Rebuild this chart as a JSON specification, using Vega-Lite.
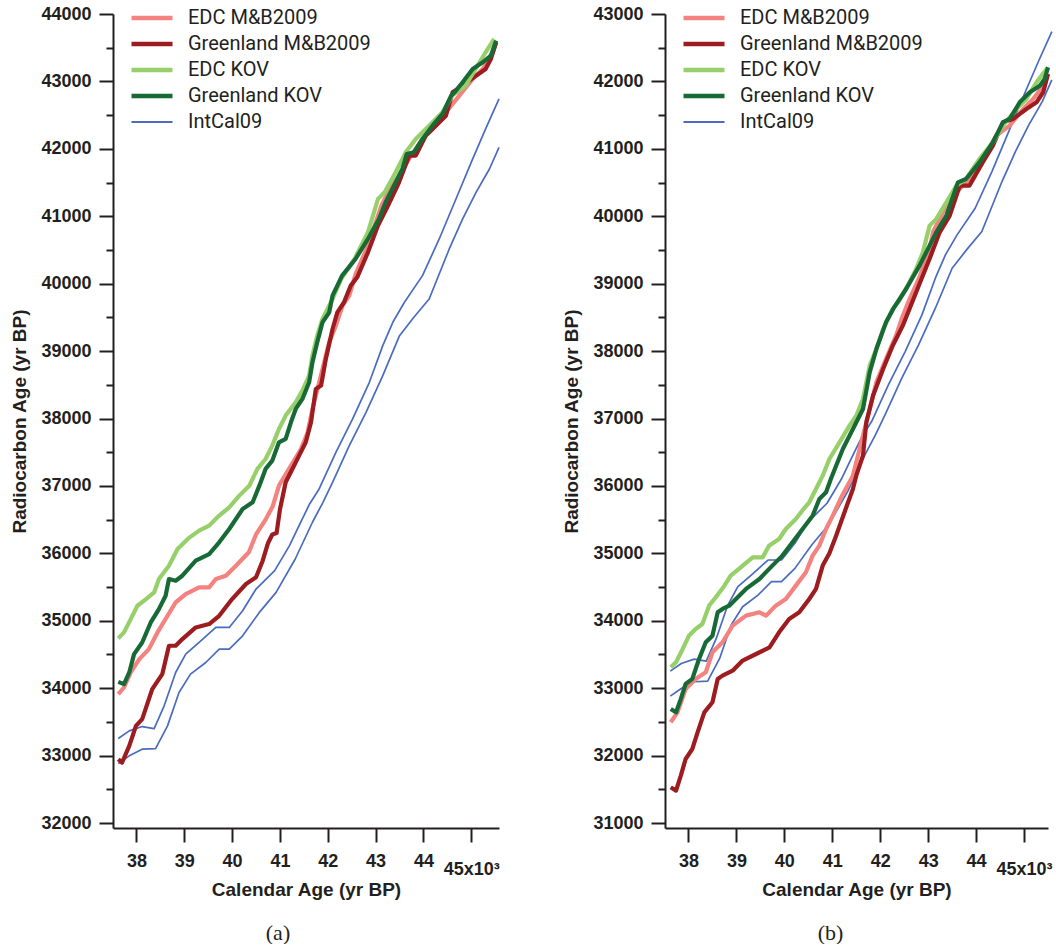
{
"$schema":"https://vega.github.io/schema/vega-lite/v6.json",
"padding":{"left":10,"top":5,"right":0,"bottom":0},
"background":"white",
"config":{
 "view":{"stroke":null},
 "axis":{"grid":false,"domainColor":"#231f20","domainWidth":2,"tickColor":"#231f20","tickWidth":2,"labelFont":"Liberation Sans","labelFontWeight":"bold","labelFontSize":18,"labelColor":"#231f20","titleFont":"Liberation Sans","titleFontWeight":"bold","titleFontSize":19,"titleColor":"#231f20","labelOverlap":false,"labelFlush":false},
 "legend":{"orient":"none","legendX":29,"legendY":-6,"title":null,"labelFont":"Roboto","labelFontSize":20,"labelColor":"#231f20","labelLimit":400,"symbolType":"stroke","symbolSize":1681,"symbolStrokeWidth":4.5,"rowPadding":6,"labelOffset":26,"padding":0},
 "title":{"orient":"bottom","font":"Liberation Serif","fontSize":22,"fontWeight":"normal","color":"#231f20","anchor":"middle","frame":"group","offset":24}
},
"datasets":{
"a":[
{"s":"IntCal09","g":"hi","x":37.62,"y":33253},{"s":"IntCal09","g":"hi","x":37.85,"y":33367},{"s":"IntCal09","g":"hi","x":38.12,"y":33431},{"s":"IntCal09","g":"hi","x":38.37,"y":33401},{"s":"IntCal09","g":"hi","x":38.58,"y":33738},{"s":"IntCal09","g":"hi","x":38.82,"y":34233},{"s":"IntCal09","g":"hi","x":39.03,"y":34505},{"s":"IntCal09","g":"hi","x":39.31,"y":34678},{"s":"IntCal09","g":"hi","x":39.66,"y":34901},{"s":"IntCal09","g":"hi","x":39.94,"y":34901},{"s":"IntCal09","g":"hi","x":40.22,"y":35149},{"s":"IntCal09","g":"hi","x":40.5,"y":35470},{"s":"IntCal09","g":"hi","x":40.89,"y":35743},{"s":"IntCal09","g":"hi","x":41.2,"y":36114},{"s":"IntCal09","g":"hi","x":41.4,"y":36411},{"s":"IntCal09","g":"hi","x":41.62,"y":36733},{"s":"IntCal09","g":"hi","x":41.82,"y":36955},{"s":"IntCal09","g":"hi","x":42.17,"y":37499},{"s":"IntCal09","g":"hi","x":42.52,"y":37993},{"s":"IntCal09","g":"hi","x":42.87,"y":38537},{"s":"IntCal09","g":"hi","x":43.15,"y":39081},{"s":"IntCal09","g":"hi","x":43.36,"y":39427},{"s":"IntCal09","g":"hi","x":43.6,"y":39720},{"s":"IntCal09","g":"hi","x":43.98,"y":40119},{"s":"IntCal09","g":"hi","x":44.33,"y":40663},{"s":"IntCal09","g":"hi","x":44.68,"y":41256},{"s":"IntCal09","g":"hi","x":45.03,"y":41850},{"s":"IntCal09","g":"hi","x":45.3,"y":42295},{"s":"IntCal09","g":"hi","x":45.58,"y":42740},
{"s":"IntCal09","g":"lo","x":37.62,"y":32882},{"s":"IntCal09","g":"lo","x":37.85,"y":32996},{"s":"IntCal09","g":"lo","x":38.12,"y":33095},{"s":"IntCal09","g":"lo","x":38.4,"y":33104},{"s":"IntCal09","g":"lo","x":38.65,"y":33441},{"s":"IntCal09","g":"lo","x":38.89,"y":33936},{"s":"IntCal09","g":"lo","x":39.13,"y":34208},{"s":"IntCal09","g":"lo","x":39.45,"y":34381},{"s":"IntCal09","g":"lo","x":39.73,"y":34579},{"s":"IntCal09","g":"lo","x":39.94,"y":34579},{"s":"IntCal09","g":"lo","x":40.22,"y":34777},{"s":"IntCal09","g":"lo","x":40.57,"y":35124},{"s":"IntCal09","g":"lo","x":40.92,"y":35421},{"s":"IntCal09","g":"lo","x":41.32,"y":35916},{"s":"IntCal09","g":"lo","x":41.68,"y":36461},{"s":"IntCal09","g":"lo","x":41.9,"y":36757},{"s":"IntCal09","g":"lo","x":42.1,"y":37054},{"s":"IntCal09","g":"lo","x":42.45,"y":37598},{"s":"IntCal09","g":"lo","x":42.8,"y":38092},{"s":"IntCal09","g":"lo","x":43.15,"y":38636},{"s":"IntCal09","g":"lo","x":43.5,"y":39229},{"s":"IntCal09","g":"lo","x":43.8,"y":39501},{"s":"IntCal09","g":"lo","x":44.12,"y":39773},{"s":"IntCal09","g":"lo","x":44.54,"y":40515},{"s":"IntCal09","g":"lo","x":44.82,"y":40960},{"s":"IntCal09","g":"lo","x":45.1,"y":41355},{"s":"IntCal09","g":"lo","x":45.38,"y":41701},{"s":"IntCal09","g":"lo","x":45.58,"y":42022},
{"s":"EDC M&B2009","g":"em","x":37.62,"y":33911},{"s":"EDC M&B2009","g":"em","x":37.74,"y":34010},{"s":"EDC M&B2009","g":"em","x":37.88,"y":34233},{"s":"EDC M&B2009","g":"em","x":38.06,"y":34431},{"s":"EDC M&B2009","g":"em","x":38.26,"y":34579},{"s":"EDC M&B2009","g":"em","x":38.44,"y":34827},{"s":"EDC M&B2009","g":"em","x":38.65,"y":35074},{"s":"EDC M&B2009","g":"em","x":38.82,"y":35272},{"s":"EDC M&B2009","g":"em","x":39.03,"y":35396},{"s":"EDC M&B2009","g":"em","x":39.31,"y":35495},{"s":"EDC M&B2009","g":"em","x":39.52,"y":35495},{"s":"EDC M&B2009","g":"em","x":39.66,"y":35619},{"s":"EDC M&B2009","g":"em","x":39.87,"y":35668},{"s":"EDC M&B2009","g":"em","x":40.08,"y":35817},{"s":"EDC M&B2009","g":"em","x":40.35,"y":36015},{"s":"EDC M&B2009","g":"em","x":40.5,"y":36280},{"s":"EDC M&B2009","g":"em","x":40.7,"y":36500},{"s":"EDC M&B2009","g":"em","x":40.85,"y":36700},{"s":"EDC M&B2009","g":"em","x":40.98,"y":37004},{"s":"EDC M&B2009","g":"em","x":41.19,"y":37252},{"s":"EDC M&B2009","g":"em","x":41.44,"y":37548},{"s":"EDC M&B2009","g":"em","x":41.58,"y":37796},{"s":"EDC M&B2009","g":"em","x":41.68,"y":38142},{"s":"EDC M&B2009","g":"em","x":41.75,"y":38339},{"s":"EDC M&B2009","g":"em","x":41.89,"y":38735},{"s":"EDC M&B2009","g":"em","x":42.03,"y":39130},{"s":"EDC M&B2009","g":"em","x":42.17,"y":39378},{"s":"EDC M&B2009","g":"em","x":42.31,"y":39674},{"s":"EDC M&B2009","g":"em","x":42.45,"y":39823},{"s":"EDC M&B2009","g":"em","x":42.58,"y":40140},{"s":"EDC M&B2009","g":"em","x":42.84,"y":40564},{"s":"EDC M&B2009","g":"em","x":43.12,"y":41157},{"s":"EDC M&B2009","g":"em","x":43.26,"y":41355},{"s":"EDC M&B2009","g":"em","x":43.49,"y":41602},{"s":"EDC M&B2009","g":"em","x":43.7,"y":41850},{"s":"EDC M&B2009","g":"em","x":43.98,"y":42146},{"s":"EDC M&B2009","g":"em","x":44.19,"y":42295},{"s":"EDC M&B2009","g":"em","x":44.47,"y":42542},{"s":"EDC M&B2009","g":"em","x":44.75,"y":42789},{"s":"EDC M&B2009","g":"em","x":45.03,"y":43036},{"s":"EDC M&B2009","g":"em","x":45.24,"y":43184},{"s":"EDC M&B2009","g":"em","x":45.45,"y":43432},{"s":"EDC M&B2009","g":"em","x":45.52,"y":43580},
{"s":"Greenland M&B2009","g":"gm","x":37.62,"y":32946},{"s":"Greenland M&B2009","g":"gm","x":37.7,"y":32897},{"s":"Greenland M&B2009","g":"gm","x":37.85,"y":33144},{"s":"Greenland M&B2009","g":"gm","x":37.99,"y":33441},{"s":"Greenland M&B2009","g":"gm","x":38.12,"y":33540},{"s":"Greenland M&B2009","g":"gm","x":38.33,"y":33985},{"s":"Greenland M&B2009","g":"gm","x":38.54,"y":34208},{"s":"Greenland M&B2009","g":"gm","x":38.68,"y":34629},{"s":"Greenland M&B2009","g":"gm","x":38.82,"y":34629},{"s":"Greenland M&B2009","g":"gm","x":38.96,"y":34728},{"s":"Greenland M&B2009","g":"gm","x":39.24,"y":34901},{"s":"Greenland M&B2009","g":"gm","x":39.52,"y":34951},{"s":"Greenland M&B2009","g":"gm","x":39.73,"y":35074},{"s":"Greenland M&B2009","g":"gm","x":40.0,"y":35322},{"s":"Greenland M&B2009","g":"gm","x":40.29,"y":35545},{"s":"Greenland M&B2009","g":"gm","x":40.5,"y":35644},{"s":"Greenland M&B2009","g":"gm","x":40.64,"y":35891},{"s":"Greenland M&B2009","g":"gm","x":40.75,"y":36150},{"s":"Greenland M&B2009","g":"gm","x":40.84,"y":36280},{"s":"Greenland M&B2009","g":"gm","x":40.93,"y":36300},{"s":"Greenland M&B2009","g":"gm","x":41.0,"y":36650},{"s":"Greenland M&B2009","g":"gm","x":41.12,"y":37054},{"s":"Greenland M&B2009","g":"gm","x":41.26,"y":37252},{"s":"Greenland M&B2009","g":"gm","x":41.4,"y":37449},{"s":"Greenland M&B2009","g":"gm","x":41.54,"y":37647},{"s":"Greenland M&B2009","g":"gm","x":41.65,"y":37944},{"s":"Greenland M&B2009","g":"gm","x":41.75,"y":38438},{"s":"Greenland M&B2009","g":"gm","x":41.86,"y":38488},{"s":"Greenland M&B2009","g":"gm","x":41.96,"y":38883},{"s":"Greenland M&B2009","g":"gm","x":42.1,"y":39328},{"s":"Greenland M&B2009","g":"gm","x":42.2,"y":39575},{"s":"Greenland M&B2009","g":"gm","x":42.34,"y":39724},{"s":"Greenland M&B2009","g":"gm","x":42.48,"y":39971},{"s":"Greenland M&B2009","g":"gm","x":42.62,"y":40100},{"s":"Greenland M&B2009","g":"gm","x":42.84,"y":40465},{"s":"Greenland M&B2009","g":"gm","x":43.05,"y":40861},{"s":"Greenland M&B2009","g":"gm","x":43.26,"y":41157},{"s":"Greenland M&B2009","g":"gm","x":43.49,"y":41503},{"s":"Greenland M&B2009","g":"gm","x":43.7,"y":41899},{"s":"Greenland M&B2009","g":"gm","x":43.84,"y":41899},{"s":"Greenland M&B2009","g":"gm","x":44.05,"y":42196},{"s":"Greenland M&B2009","g":"gm","x":44.26,"y":42344},{"s":"Greenland M&B2009","g":"gm","x":44.47,"y":42492},{"s":"Greenland M&B2009","g":"gm","x":44.61,"y":42838},{"s":"Greenland M&B2009","g":"gm","x":44.82,"y":42937},{"s":"Greenland M&B2009","g":"gm","x":45.1,"y":43085},{"s":"Greenland M&B2009","g":"gm","x":45.3,"y":43184},{"s":"Greenland M&B2009","g":"gm","x":45.41,"y":43333},{"s":"Greenland M&B2009","g":"gm","x":45.52,"y":43580},
{"s":"EDC KOV","g":"ek","x":37.62,"y":34738},{"s":"EDC KOV","g":"ek","x":37.74,"y":34827},{"s":"EDC KOV","g":"ek","x":37.88,"y":35025},{"s":"EDC KOV","g":"ek","x":38.02,"y":35223},{"s":"EDC KOV","g":"ek","x":38.2,"y":35322},{"s":"EDC KOV","g":"ek","x":38.37,"y":35420},{"s":"EDC KOV","g":"ek","x":38.47,"y":35619},{"s":"EDC KOV","g":"ek","x":38.68,"y":35817},{"s":"EDC KOV","g":"ek","x":38.86,"y":36064},{"s":"EDC KOV","g":"ek","x":39.1,"y":36230},{"s":"EDC KOV","g":"ek","x":39.31,"y":36337},{"s":"EDC KOV","g":"ek","x":39.52,"y":36411},{"s":"EDC KOV","g":"ek","x":39.73,"y":36560},{"s":"EDC KOV","g":"ek","x":39.94,"y":36683},{"s":"EDC KOV","g":"ek","x":40.15,"y":36856},{"s":"EDC KOV","g":"ek","x":40.36,"y":37004},{"s":"EDC KOV","g":"ek","x":40.53,"y":37252},{"s":"EDC KOV","g":"ek","x":40.7,"y":37400},{"s":"EDC KOV","g":"ek","x":40.84,"y":37598},{"s":"EDC KOV","g":"ek","x":40.98,"y":37845},{"s":"EDC KOV","g":"ek","x":41.12,"y":38043},{"s":"EDC KOV","g":"ek","x":41.33,"y":38240},{"s":"EDC KOV","g":"ek","x":41.47,"y":38413},{"s":"EDC KOV","g":"ek","x":41.61,"y":38636},{"s":"EDC KOV","g":"ek","x":41.68,"y":38933},{"s":"EDC KOV","g":"ek","x":41.78,"y":39229},{"s":"EDC KOV","g":"ek","x":41.89,"y":39476},{"s":"EDC KOV","g":"ek","x":42.1,"y":39773},{"s":"EDC KOV","g":"ek","x":42.28,"y":40070},{"s":"EDC KOV","g":"ek","x":42.56,"y":40366},{"s":"EDC KOV","g":"ek","x":42.84,"y":40762},{"s":"EDC KOV","g":"ek","x":43.05,"y":41256},{"s":"EDC KOV","g":"ek","x":43.19,"y":41355},{"s":"EDC KOV","g":"ek","x":43.42,"y":41652},{"s":"EDC KOV","g":"ek","x":43.63,"y":41948},{"s":"EDC KOV","g":"ek","x":43.84,"y":42146},{"s":"EDC KOV","g":"ek","x":44.12,"y":42344},{"s":"EDC KOV","g":"ek","x":44.4,"y":42542},{"s":"EDC KOV","g":"ek","x":44.6,"y":42789},{"s":"EDC KOV","g":"ek","x":44.88,"y":42937},{"s":"EDC KOV","g":"ek","x":45.09,"y":43184},{"s":"EDC KOV","g":"ek","x":45.3,"y":43432},{"s":"EDC KOV","g":"ek","x":45.48,"y":43629},
{"s":"Greenland KOV","g":"gk","x":37.62,"y":34094},{"s":"Greenland KOV","g":"gk","x":37.74,"y":34060},{"s":"Greenland KOV","g":"gk","x":37.85,"y":34233},{"s":"Greenland KOV","g":"gk","x":37.95,"y":34505},{"s":"Greenland KOV","g":"gk","x":38.12,"y":34678},{"s":"Greenland KOV","g":"gk","x":38.3,"y":34975},{"s":"Greenland KOV","g":"gk","x":38.47,"y":35173},{"s":"Greenland KOV","g":"gk","x":38.61,"y":35371},{"s":"Greenland KOV","g":"gk","x":38.68,"y":35619},{"s":"Greenland KOV","g":"gk","x":38.82,"y":35594},{"s":"Greenland KOV","g":"gk","x":38.96,"y":35668},{"s":"Greenland KOV","g":"gk","x":39.24,"y":35891},{"s":"Greenland KOV","g":"gk","x":39.52,"y":35990},{"s":"Greenland KOV","g":"gk","x":39.73,"y":36163},{"s":"Greenland KOV","g":"gk","x":39.94,"y":36361},{"s":"Greenland KOV","g":"gk","x":40.22,"y":36658},{"s":"Greenland KOV","g":"gk","x":40.43,"y":36757},{"s":"Greenland KOV","g":"gk","x":40.57,"y":37004},{"s":"Greenland KOV","g":"gk","x":40.7,"y":37252},{"s":"Greenland KOV","g":"gk","x":40.84,"y":37375},{"s":"Greenland KOV","g":"gk","x":40.98,"y":37647},{"s":"Greenland KOV","g":"gk","x":41.12,"y":37697},{"s":"Greenland KOV","g":"gk","x":41.23,"y":37944},{"s":"Greenland KOV","g":"gk","x":41.33,"y":38142},{"s":"Greenland KOV","g":"gk","x":41.47,"y":38290},{"s":"Greenland KOV","g":"gk","x":41.61,"y":38537},{"s":"Greenland KOV","g":"gk","x":41.68,"y":38834},{"s":"Greenland KOV","g":"gk","x":41.78,"y":39130},{"s":"Greenland KOV","g":"gk","x":41.89,"y":39427},{"s":"Greenland KOV","g":"gk","x":42.03,"y":39575},{"s":"Greenland KOV","g":"gk","x":42.1,"y":39822},{"s":"Greenland KOV","g":"gk","x":42.3,"y":40119},{"s":"Greenland KOV","g":"gk","x":42.58,"y":40366},{"s":"Greenland KOV","g":"gk","x":42.84,"y":40663},{"s":"Greenland KOV","g":"gk","x":43.07,"y":40960},{"s":"Greenland KOV","g":"gk","x":43.21,"y":41207},{"s":"Greenland KOV","g":"gk","x":43.35,"y":41405},{"s":"Greenland KOV","g":"gk","x":43.56,"y":41701},{"s":"Greenland KOV","g":"gk","x":43.65,"y":41924},{"s":"Greenland KOV","g":"gk","x":43.8,"y":41948},{"s":"Greenland KOV","g":"gk","x":43.98,"y":42146},{"s":"Greenland KOV","g":"gk","x":44.19,"y":42344},{"s":"Greenland KOV","g":"gk","x":44.4,"y":42517},{"s":"Greenland KOV","g":"gk","x":44.58,"y":42789},{"s":"Greenland KOV","g":"gk","x":44.65,"y":42838},{"s":"Greenland KOV","g":"gk","x":44.82,"y":42987},{"s":"Greenland KOV","g":"gk","x":45.03,"y":43184},{"s":"Greenland KOV","g":"gk","x":45.24,"y":43283},{"s":"Greenland KOV","g":"gk","x":45.41,"y":43382},{"s":"Greenland KOV","g":"gk","x":45.52,"y":43605}
],
"b":[
{"s":"IntCal09","g":"hi","x":37.62,"y":33253},{"s":"IntCal09","g":"hi","x":37.85,"y":33367},{"s":"IntCal09","g":"hi","x":38.12,"y":33431},{"s":"IntCal09","g":"hi","x":38.37,"y":33401},{"s":"IntCal09","g":"hi","x":38.58,"y":33738},{"s":"IntCal09","g":"hi","x":38.82,"y":34233},{"s":"IntCal09","g":"hi","x":39.03,"y":34505},{"s":"IntCal09","g":"hi","x":39.31,"y":34678},{"s":"IntCal09","g":"hi","x":39.66,"y":34901},{"s":"IntCal09","g":"hi","x":39.94,"y":34901},{"s":"IntCal09","g":"hi","x":40.22,"y":35149},{"s":"IntCal09","g":"hi","x":40.5,"y":35470},{"s":"IntCal09","g":"hi","x":40.89,"y":35743},{"s":"IntCal09","g":"hi","x":41.2,"y":36114},{"s":"IntCal09","g":"hi","x":41.4,"y":36411},{"s":"IntCal09","g":"hi","x":41.62,"y":36733},{"s":"IntCal09","g":"hi","x":41.82,"y":36955},{"s":"IntCal09","g":"hi","x":42.17,"y":37499},{"s":"IntCal09","g":"hi","x":42.52,"y":37993},{"s":"IntCal09","g":"hi","x":42.87,"y":38537},{"s":"IntCal09","g":"hi","x":43.15,"y":39081},{"s":"IntCal09","g":"hi","x":43.36,"y":39427},{"s":"IntCal09","g":"hi","x":43.6,"y":39720},{"s":"IntCal09","g":"hi","x":43.98,"y":40119},{"s":"IntCal09","g":"hi","x":44.33,"y":40663},{"s":"IntCal09","g":"hi","x":44.68,"y":41256},{"s":"IntCal09","g":"hi","x":45.03,"y":41850},{"s":"IntCal09","g":"hi","x":45.3,"y":42295},{"s":"IntCal09","g":"hi","x":45.58,"y":42740},
{"s":"IntCal09","g":"lo","x":37.62,"y":32882},{"s":"IntCal09","g":"lo","x":37.85,"y":32996},{"s":"IntCal09","g":"lo","x":38.12,"y":33095},{"s":"IntCal09","g":"lo","x":38.4,"y":33104},{"s":"IntCal09","g":"lo","x":38.65,"y":33441},{"s":"IntCal09","g":"lo","x":38.89,"y":33936},{"s":"IntCal09","g":"lo","x":39.13,"y":34208},{"s":"IntCal09","g":"lo","x":39.45,"y":34381},{"s":"IntCal09","g":"lo","x":39.73,"y":34579},{"s":"IntCal09","g":"lo","x":39.94,"y":34579},{"s":"IntCal09","g":"lo","x":40.22,"y":34777},{"s":"IntCal09","g":"lo","x":40.57,"y":35124},{"s":"IntCal09","g":"lo","x":40.92,"y":35421},{"s":"IntCal09","g":"lo","x":41.32,"y":35916},{"s":"IntCal09","g":"lo","x":41.68,"y":36461},{"s":"IntCal09","g":"lo","x":41.9,"y":36757},{"s":"IntCal09","g":"lo","x":42.1,"y":37054},{"s":"IntCal09","g":"lo","x":42.45,"y":37598},{"s":"IntCal09","g":"lo","x":42.8,"y":38092},{"s":"IntCal09","g":"lo","x":43.15,"y":38636},{"s":"IntCal09","g":"lo","x":43.5,"y":39229},{"s":"IntCal09","g":"lo","x":43.8,"y":39501},{"s":"IntCal09","g":"lo","x":44.12,"y":39773},{"s":"IntCal09","g":"lo","x":44.54,"y":40515},{"s":"IntCal09","g":"lo","x":44.82,"y":40960},{"s":"IntCal09","g":"lo","x":45.1,"y":41355},{"s":"IntCal09","g":"lo","x":45.38,"y":41701},{"s":"IntCal09","g":"lo","x":45.58,"y":42022},
{"s":"EDC M&B2009","g":"em","x":37.63,"y":32494},{"s":"EDC M&B2009","g":"em","x":37.77,"y":32642},{"s":"EDC M&B2009","g":"em","x":37.94,"y":32988},{"s":"EDC M&B2009","g":"em","x":38.15,"y":33137},{"s":"EDC M&B2009","g":"em","x":38.36,"y":33236},{"s":"EDC M&B2009","g":"em","x":38.5,"y":33532},{"s":"EDC M&B2009","g":"em","x":38.71,"y":33681},{"s":"EDC M&B2009","g":"em","x":38.92,"y":33928},{"s":"EDC M&B2009","g":"em","x":39.2,"y":34076},{"s":"EDC M&B2009","g":"em","x":39.48,"y":34125},{"s":"EDC M&B2009","g":"em","x":39.62,"y":34076},{"s":"EDC M&B2009","g":"em","x":39.82,"y":34224},{"s":"EDC M&B2009","g":"em","x":40.03,"y":34323},{"s":"EDC M&B2009","g":"em","x":40.24,"y":34521},{"s":"EDC M&B2009","g":"em","x":40.45,"y":34719},{"s":"EDC M&B2009","g":"em","x":40.59,"y":34966},{"s":"EDC M&B2009","g":"em","x":40.73,"y":35114},{"s":"EDC M&B2009","g":"em","x":40.87,"y":35361},{"s":"EDC M&B2009","g":"em","x":41.01,"y":35559},{"s":"EDC M&B2009","g":"em","x":41.2,"y":35850},{"s":"EDC M&B2009","g":"em","x":41.43,"y":36150},{"s":"EDC M&B2009","g":"em","x":41.64,"y":36745},{"s":"EDC M&B2009","g":"em","x":41.78,"y":37141},{"s":"EDC M&B2009","g":"em","x":41.92,"y":37536},{"s":"EDC M&B2009","g":"em","x":42.12,"y":37882},{"s":"EDC M&B2009","g":"em","x":42.33,"y":38229},{"s":"EDC M&B2009","g":"em","x":42.47,"y":38525},{"s":"EDC M&B2009","g":"em","x":42.6,"y":38750},{"s":"EDC M&B2009","g":"em","x":42.82,"y":39100},{"s":"EDC M&B2009","g":"em","x":43.03,"y":39514},{"s":"EDC M&B2009","g":"em","x":43.1,"y":39762},{"s":"EDC M&B2009","g":"em","x":43.31,"y":40059},{"s":"EDC M&B2009","g":"em","x":43.59,"y":40355},{"s":"EDC M&B2009","g":"em","x":43.86,"y":40553},{"s":"EDC M&B2009","g":"em","x":44.14,"y":40850},{"s":"EDC M&B2009","g":"em","x":44.42,"y":41196},{"s":"EDC M&B2009","g":"em","x":44.7,"y":41344},{"s":"EDC M&B2009","g":"em","x":44.98,"y":41591},{"s":"EDC M&B2009","g":"em","x":45.19,"y":41740},{"s":"EDC M&B2009","g":"em","x":45.4,"y":41937},{"s":"EDC M&B2009","g":"em","x":45.5,"y":42110},
{"s":"Greenland M&B2009","g":"gm","x":37.63,"y":31530},{"s":"Greenland M&B2009","g":"gm","x":37.74,"y":31480},{"s":"Greenland M&B2009","g":"gm","x":37.84,"y":31703},{"s":"Greenland M&B2009","g":"gm","x":37.94,"y":31950},{"s":"Greenland M&B2009","g":"gm","x":38.08,"y":32098},{"s":"Greenland M&B2009","g":"gm","x":38.19,"y":32346},{"s":"Greenland M&B2009","g":"gm","x":38.33,"y":32642},{"s":"Greenland M&B2009","g":"gm","x":38.5,"y":32791},{"s":"Greenland M&B2009","g":"gm","x":38.61,"y":33137},{"s":"Greenland M&B2009","g":"gm","x":38.71,"y":33186},{"s":"Greenland M&B2009","g":"gm","x":38.92,"y":33260},{"s":"Greenland M&B2009","g":"gm","x":39.13,"y":33409},{"s":"Greenland M&B2009","g":"gm","x":39.41,"y":33507},{"s":"Greenland M&B2009","g":"gm","x":39.69,"y":33606},{"s":"Greenland M&B2009","g":"gm","x":39.89,"y":33829},{"s":"Greenland M&B2009","g":"gm","x":40.1,"y":34027},{"s":"Greenland M&B2009","g":"gm","x":40.31,"y":34125},{"s":"Greenland M&B2009","g":"gm","x":40.52,"y":34323},{"s":"Greenland M&B2009","g":"gm","x":40.66,"y":34472},{"s":"Greenland M&B2009","g":"gm","x":40.8,"y":34818},{"s":"Greenland M&B2009","g":"gm","x":40.94,"y":35000},{"s":"Greenland M&B2009","g":"gm","x":41.08,"y":35262},{"s":"Greenland M&B2009","g":"gm","x":41.18,"y":35460},{"s":"Greenland M&B2009","g":"gm","x":41.29,"y":35680},{"s":"Greenland M&B2009","g":"gm","x":41.43,"y":35955},{"s":"Greenland M&B2009","g":"gm","x":41.5,"y":36152},{"s":"Greenland M&B2009","g":"gm","x":41.64,"y":36449},{"s":"Greenland M&B2009","g":"gm","x":41.71,"y":36943},{"s":"Greenland M&B2009","g":"gm","x":41.85,"y":37339},{"s":"Greenland M&B2009","g":"gm","x":42.06,"y":37734},{"s":"Greenland M&B2009","g":"gm","x":42.26,"y":38080},{"s":"Greenland M&B2009","g":"gm","x":42.47,"y":38377},{"s":"Greenland M&B2009","g":"gm","x":42.61,"y":38624},{"s":"Greenland M&B2009","g":"gm","x":42.82,"y":39000},{"s":"Greenland M&B2009","g":"gm","x":43.03,"y":39370},{"s":"Greenland M&B2009","g":"gm","x":43.24,"y":39762},{"s":"Greenland M&B2009","g":"gm","x":43.45,"y":40009},{"s":"Greenland M&B2009","g":"gm","x":43.66,"y":40454},{"s":"Greenland M&B2009","g":"gm","x":43.86,"y":40454},{"s":"Greenland M&B2009","g":"gm","x":44.14,"y":40800},{"s":"Greenland M&B2009","g":"gm","x":44.35,"y":41048},{"s":"Greenland M&B2009","g":"gm","x":44.56,"y":41393},{"s":"Greenland M&B2009","g":"gm","x":44.77,"y":41443},{"s":"Greenland M&B2009","g":"gm","x":45.05,"y":41591},{"s":"Greenland M&B2009","g":"gm","x":45.26,"y":41690},{"s":"Greenland M&B2009","g":"gm","x":45.4,"y":41839},{"s":"Greenland M&B2009","g":"gm","x":45.5,"y":42110},
{"s":"EDC KOV","g":"ek","x":37.63,"y":33310},{"s":"EDC KOV","g":"ek","x":37.74,"y":33384},{"s":"EDC KOV","g":"ek","x":37.88,"y":33582},{"s":"EDC KOV","g":"ek","x":38.01,"y":33779},{"s":"EDC KOV","g":"ek","x":38.15,"y":33878},{"s":"EDC KOV","g":"ek","x":38.29,"y":33952},{"s":"EDC KOV","g":"ek","x":38.43,"y":34224},{"s":"EDC KOV","g":"ek","x":38.57,"y":34348},{"s":"EDC KOV","g":"ek","x":38.75,"y":34521},{"s":"EDC KOV","g":"ek","x":38.88,"y":34669},{"s":"EDC KOV","g":"ek","x":39.09,"y":34793},{"s":"EDC KOV","g":"ek","x":39.34,"y":34941},{"s":"EDC KOV","g":"ek","x":39.55,"y":34941},{"s":"EDC KOV","g":"ek","x":39.68,"y":35114},{"s":"EDC KOV","g":"ek","x":39.89,"y":35213},{"s":"EDC KOV","g":"ek","x":40.03,"y":35361},{"s":"EDC KOV","g":"ek","x":40.24,"y":35510},{"s":"EDC KOV","g":"ek","x":40.38,"y":35640},{"s":"EDC KOV","g":"ek","x":40.52,"y":35757},{"s":"EDC KOV","g":"ek","x":40.66,"y":35955},{"s":"EDC KOV","g":"ek","x":40.8,"y":36152},{"s":"EDC KOV","g":"ek","x":40.94,"y":36399},{"s":"EDC KOV","g":"ek","x":41.15,"y":36647},{"s":"EDC KOV","g":"ek","x":41.36,"y":36894},{"s":"EDC KOV","g":"ek","x":41.5,"y":37042},{"s":"EDC KOV","g":"ek","x":41.64,"y":37289},{"s":"EDC KOV","g":"ek","x":41.78,"y":37784},{"s":"EDC KOV","g":"ek","x":41.92,"y":38031},{"s":"EDC KOV","g":"ek","x":42.06,"y":38327},{"s":"EDC KOV","g":"ek","x":42.26,"y":38624},{"s":"EDC KOV","g":"ek","x":42.4,"y":38750},{"s":"EDC KOV","g":"ek","x":42.61,"y":39020},{"s":"EDC KOV","g":"ek","x":42.75,"y":39217},{"s":"EDC KOV","g":"ek","x":42.89,"y":39465},{"s":"EDC KOV","g":"ek","x":43.03,"y":39861},{"s":"EDC KOV","g":"ek","x":43.17,"y":39960},{"s":"EDC KOV","g":"ek","x":43.38,"y":40207},{"s":"EDC KOV","g":"ek","x":43.59,"y":40454},{"s":"EDC KOV","g":"ek","x":43.79,"y":40553},{"s":"EDC KOV","g":"ek","x":44.07,"y":40850},{"s":"EDC KOV","g":"ek","x":44.35,"y":41097},{"s":"EDC KOV","g":"ek","x":44.56,"y":41344},{"s":"EDC KOV","g":"ek","x":44.84,"y":41591},{"s":"EDC KOV","g":"ek","x":45.05,"y":41740},{"s":"EDC KOV","g":"ek","x":45.26,"y":41987},{"s":"EDC KOV","g":"ek","x":45.5,"y":42209},
{"s":"Greenland KOV","g":"gk","x":37.63,"y":32692},{"s":"Greenland KOV","g":"gk","x":37.74,"y":32642},{"s":"Greenland KOV","g":"gk","x":37.84,"y":32840},{"s":"Greenland KOV","g":"gk","x":37.94,"y":33062},{"s":"Greenland KOV","g":"gk","x":38.08,"y":33137},{"s":"Greenland KOV","g":"gk","x":38.22,"y":33433},{"s":"Greenland KOV","g":"gk","x":38.36,"y":33681},{"s":"Greenland KOV","g":"gk","x":38.5,"y":33779},{"s":"Greenland KOV","g":"gk","x":38.61,"y":34125},{"s":"Greenland KOV","g":"gk","x":38.71,"y":34175},{"s":"Greenland KOV","g":"gk","x":38.85,"y":34224},{"s":"Greenland KOV","g":"gk","x":38.99,"y":34323},{"s":"Greenland KOV","g":"gk","x":39.2,"y":34472},{"s":"Greenland KOV","g":"gk","x":39.48,"y":34620},{"s":"Greenland KOV","g":"gk","x":39.75,"y":34818},{"s":"Greenland KOV","g":"gk","x":39.96,"y":34966},{"s":"Greenland KOV","g":"gk","x":40.17,"y":35164},{"s":"Greenland KOV","g":"gk","x":40.38,"y":35361},{"s":"Greenland KOV","g":"gk","x":40.59,"y":35559},{"s":"Greenland KOV","g":"gk","x":40.73,"y":35806},{"s":"Greenland KOV","g":"gk","x":40.87,"y":35905},{"s":"Greenland KOV","g":"gk","x":40.97,"y":36103},{"s":"Greenland KOV","g":"gk","x":41.08,"y":36300},{"s":"Greenland KOV","g":"gk","x":41.22,"y":36547},{"s":"Greenland KOV","g":"gk","x":41.43,"y":36844},{"s":"Greenland KOV","g":"gk","x":41.64,"y":37141},{"s":"Greenland KOV","g":"gk","x":41.78,"y":37685},{"s":"Greenland KOV","g":"gk","x":41.92,"y":38031},{"s":"Greenland KOV","g":"gk","x":42.12,"y":38426},{"s":"Greenland KOV","g":"gk","x":42.29,"y":38649},{"s":"Greenland KOV","g":"gk","x":42.54,"y":38921},{"s":"Greenland KOV","g":"gk","x":42.82,"y":39267},{"s":"Greenland KOV","g":"gk","x":43.03,"y":39564},{"s":"Greenland KOV","g":"gk","x":43.17,"y":39762},{"s":"Greenland KOV","g":"gk","x":43.38,"y":40009},{"s":"Greenland KOV","g":"gk","x":43.62,"y":40503},{"s":"Greenland KOV","g":"gk","x":43.79,"y":40553},{"s":"Greenland KOV","g":"gk","x":44.07,"y":40800},{"s":"Greenland KOV","g":"gk","x":44.35,"y":41097},{"s":"Greenland KOV","g":"gk","x":44.56,"y":41393},{"s":"Greenland KOV","g":"gk","x":44.7,"y":41443},{"s":"Greenland KOV","g":"gk","x":44.91,"y":41690},{"s":"Greenland KOV","g":"gk","x":45.12,"y":41839},{"s":"Greenland KOV","g":"gk","x":45.33,"y":41937},{"s":"Greenland KOV","g":"gk","x":45.43,"y":42036},{"s":"Greenland KOV","g":"gk","x":45.5,"y":42209}
]
},
"spacing":62,
"resolve":{"scale":{"x":"independent","y":"independent","color":"independent"},"legend":{"color":"independent"}},
"hconcat":[
{
 "width":386,"height":814,
 "data":{"name":"a"},
 "title":{"text":"(a)","dx":-28},
 "encoding":{
  "x":{"field":"x","type":"quantitative","scale":{"domain":[37.51,45.58],"nice":false,"zero":false},
   "axis":{"title":"Calendar Age (yr BP)","values":[38,38.5,39,39.5,40,40.5,41,41.5,42,42.5,43,43.5,44,44.5,45,45.5],"format":"d","labelExpr":"datum.value % 1 != 0 ? '' : (datum.value == 45 ? '45x10³' : datum.label)","tickSize":{"condition":{"test":"datum.value % 1 == 0","value":14},"value":7},"labelPadding":{"condition":{"test":"datum.value == 45","value":18},"value":10},"titlePadding":2}},
  "y":{"field":"y","type":"quantitative","scale":{"domain":[31926,44000],"nice":false,"zero":false},
   "axis":{"title":"Radiocarbon Age (yr BP)","values":[32000,32500,33000,33500,34000,34500,35000,35500,36000,36500,37000,37500,38000,38500,39000,39500,40000,40500,41000,41500,42000,42500,43000,43500,44000],"format":"d","labelExpr":"datum.value % 1000 != 0 ? '' : datum.label","tickSize":{"condition":{"test":"datum.value % 1000 == 0","value":14},"value":7},"labelPadding":8,"titlePadding":11}},
  "color":{"field":"s","type":"nominal","scale":{"domain":["EDC M&B2009","Greenland M&B2009","EDC KOV","Greenland KOV","IntCal09"],"range":["#f4827f","#9c1c20","#97cf6b","#176a36","#4a6bc0"]},
   "legend":{"encode":{"symbols":{"update":{"strokeWidth":{"signal":"datum.value == 'IntCal09' ? 2 : 4.5"}}}}}},
  "detail":{"field":"g","type":"nominal"}
 },
 "layer":[
  {"transform":[{"filter":"datum.s == 'IntCal09'"}],"mark":{"type":"line","strokeWidth":1.7,"strokeJoin":"round"}},
  {"transform":[{"filter":"datum.s != 'IntCal09'"}],"mark":{"type":"line","strokeWidth":4.2,"strokeJoin":"round"}}
 ]
},
{
 "width":383,"height":814,
 "data":{"name":"b"},
 "title":{"text":"(b)","dx":-26},
 "encoding":{
  "x":{"field":"x","type":"quantitative","scale":{"domain":[37.51,45.5],"nice":false,"zero":false},
   "axis":{"title":"Calendar Age (yr BP)","values":[38,38.5,39,39.5,40,40.5,41,41.5,42,42.5,43,43.5,44,44.5,45,45.5],"format":"d","labelExpr":"datum.value % 1 != 0 ? '' : (datum.value == 45 ? '45x10³' : datum.label)","tickSize":{"condition":{"test":"datum.value % 1 == 0","value":14},"value":7},"labelPadding":{"condition":{"test":"datum.value == 45","value":18},"value":10},"titlePadding":2}},
  "y":{"field":"y","type":"quantitative","scale":{"domain":[30926,43000],"nice":false,"zero":false},
   "axis":{"title":"Radiocarbon Age (yr BP)","values":[31000,31500,32000,32500,33000,33500,34000,34500,35000,35500,36000,36500,37000,37500,38000,38500,39000,39500,40000,40500,41000,41500,42000,42500,43000],"format":"d","labelExpr":"datum.value % 1000 != 0 ? '' : datum.label","tickSize":{"condition":{"test":"datum.value % 1000 == 0","value":14},"value":7},"labelPadding":8,"titlePadding":11}},
  "color":{"field":"s","type":"nominal","scale":{"domain":["EDC M&B2009","Greenland M&B2009","EDC KOV","Greenland KOV","IntCal09"],"range":["#f4827f","#9c1c20","#97cf6b","#176a36","#4a6bc0"]},
   "legend":{"encode":{"symbols":{"update":{"strokeWidth":{"signal":"datum.value == 'IntCal09' ? 2 : 4.5"}}}}}},
  "detail":{"field":"g","type":"nominal"}
 },
 "layer":[
  {"transform":[{"filter":"datum.s == 'IntCal09'"}],"mark":{"type":"line","strokeWidth":1.7,"strokeJoin":"round"}},
  {"transform":[{"filter":"datum.s != 'IntCal09'"}],"mark":{"type":"line","strokeWidth":4.2,"strokeJoin":"round"}}
 ]
}
]
}
